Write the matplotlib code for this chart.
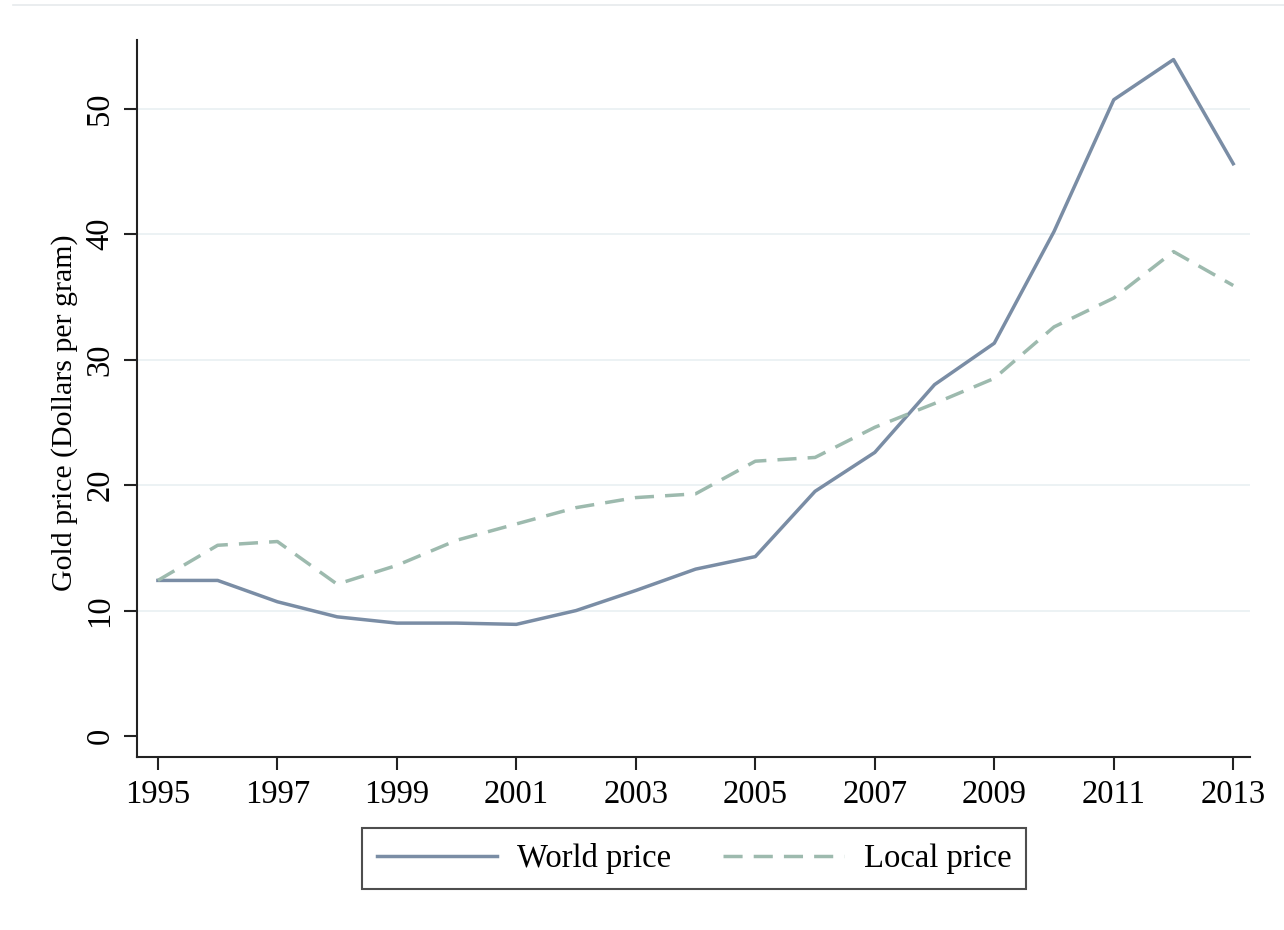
import matplotlib.pyplot as plt
from matplotlib.lines import Line2D

years = list(range(1995, 2014))
world_price = [12.4, 12.4, 10.7, 9.5, 9.0, 9.0, 8.9, 10.0, 11.6, 13.3, 14.3,
               19.5, 22.6, 28.0, 31.3, 40.2, 50.7, 53.9, 45.6]
local_price = [12.4, 15.2, 15.5, 12.1, 13.6, 15.6, 16.9, 18.2, 19.0, 19.3, 21.9,
               22.2, 24.6, 26.5, 28.5, 32.6, 34.9, 38.6, 35.9]
xticks = list(range(1995, 2014, 2))
yticks = [0, 10, 20, 30, 40, 50]

plt.rcParams['font.family'] = ['Liberation Serif', 'DejaVu Serif']

fig = plt.figure(figsize=(12.84, 9.30), dpi=100)
ax = fig.add_axes([0.1067, 0.186, 0.8668, 0.771])

for v in yticks[1:]:
    ax.axhline(v, color='#eaf1f3', lw=1.3, zorder=0)

ax.plot(years, world_price, color='#7a8da5', lw=2.5, label='World price')
ax.plot(years, local_price, color='#9dbaae', lw=2.5, dashes=(5.5, 3.2),
        label='Local price')

ax.set_xlim(1994.65, 2013.28)
ax.set_ylim(-1.67, 55.46)
ax.set_xticks(xticks)
ax.set_yticks(yticks)
ax.tick_params(axis='both', length=9.5, width=1.5, labelsize=23.5, color='#222222')
ax.tick_params(axis='x', pad=7)
ax.tick_params(axis='y', pad=6)
for lab in ax.get_yticklabels():
    lab.set_rotation(90)
    lab.set_va('center')

for s in ['top', 'right']:
    ax.spines[s].set_visible(False)
for s in ['left', 'bottom']:
    ax.spines[s].set_linewidth(1.5)
    ax.spines[s].set_color('#222222')

ax.set_ylabel('Gold price (Dollars per gram)', fontsize=21.5)
ax.yaxis.set_label_coords(-0.053, 0.48)

leg = fig.legend(loc='center', bbox_to_anchor=(694 / 1284, 1 - 858.5 / 930),
                 ncol=2, fontsize=23.5, frameon=True, fancybox=False,
                 handlelength=3.7, columnspacing=1.6, handletextpad=0.6,
                 borderpad=0.45)
leg.get_frame().set_edgecolor('#222222')
leg.get_frame().set_linewidth(1.5)

fig.add_artist(Line2D([0.01, 1.0], [1 - 5 / 930, 1 - 5 / 930],
                      transform=fig.transFigure, color='#e6eaec', lw=1.2))

fig.savefig('out.png', dpi=100, facecolor='white')
